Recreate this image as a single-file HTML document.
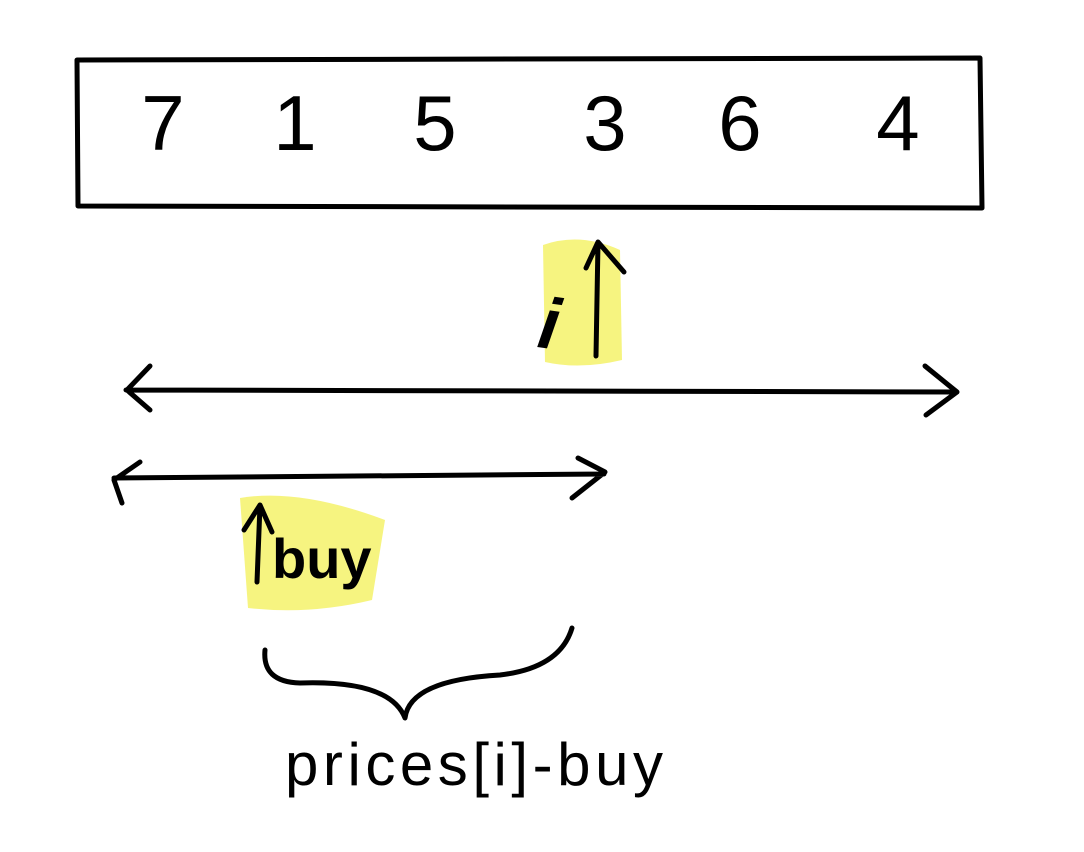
<!DOCTYPE html>
<html><head><meta charset="utf-8"><style>
html,body{margin:0;padding:0;background:#fff;}
svg{display:block;}
text{font-family:"Liberation Sans",sans-serif;fill:#000;}
</style></head><body>
<svg width="1084" height="852" viewBox="0 0 1084 852">
<rect x="0" y="0" width="1084" height="852" fill="#fff"/>
<path d="M77 60 L980 58 L982 208 L78 206 Z" fill="none" stroke="#000" stroke-width="5" stroke-linejoin="round"/>
<g id="digits"></g>
<path d="M543 245 Q580 232 620 250 L622 360 Q580 370 545 362 Z" fill="#f5f26a" opacity="0.85"/>
<text x="540" y="350" font-size="72" font-style="italic" font-weight="bold" transform="rotate(8 560 320)">i</text>
<path d="M596 356 L598 242 M586 268 L598 242 L624 272" fill="none" stroke="#000" stroke-width="5" stroke-linecap="round" stroke-linejoin="round"/>
<path d="M126 390 L957 392 M150 366 L127 390 L150 410 M925 366 L957 392 L926 415" fill="none" stroke="#000" stroke-width="5" stroke-linecap="round" stroke-linejoin="round"/>
<path d="M114 478 L604 474 M140 462 L114 480 L122 503 M578 458 L605 472 L572 498" fill="none" stroke="#000" stroke-width="5" stroke-linecap="round" stroke-linejoin="round"/>
<path d="M240 498 Q300 488 385 520 L372 600 Q310 615 248 608 Z" fill="#f5f26a" opacity="0.85"/>
<path d="M257 582 L260 505 M244 530 L260 505 L272 532" fill="none" stroke="#000" stroke-width="5" stroke-linecap="round" stroke-linejoin="round"/>
<text x="272" y="578" font-size="56" font-weight="bold">buy</text>
<path d="M265 650 Q262 682 300 683 Q390 680 405 718 Q410 680 500 675 Q560 668 572 628" fill="none" stroke="#000" stroke-width="5" stroke-linecap="round" stroke-linejoin="round"/>
<text x="285" y="785" font-size="60" textLength="378">prices[i]-buy</text>
</svg>
<script>
const prices=[7,1,5,3,6,4];
const slotX=[163,295,435,605,740,898];
const g=document.getElementById('digits');
prices.forEach((p,i)=>{
  const t=document.createElementNS('http://www.w3.org/2000/svg','text');
  t.setAttribute('x',slotX[i]);t.setAttribute('y',150);
  t.setAttribute('font-size','78');t.setAttribute('text-anchor','middle');
  t.textContent=p;
  
  
  g.appendChild(t);
});
</script>
</body></html>
